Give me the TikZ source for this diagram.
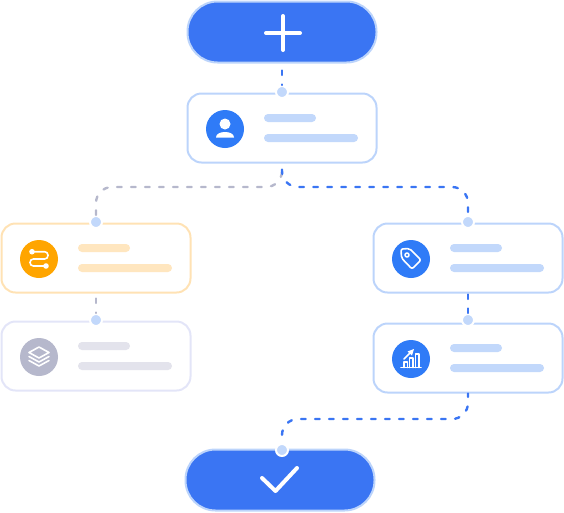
\documentclass[tikz,border=0pt]{standalone}
\definecolor{mainblue}{HTML}{3A75F3}
\definecolor{iconblue}{HTML}{2F7BF7}
\definecolor{edgeblue}{HTML}{BCD4FB}
\definecolor{barblue}{HTML}{C2D8FB}
\definecolor{iconorange}{HTML}{FFA500}
\definecolor{edgeorange}{HTML}{FFE2B4}
\definecolor{barorange}{HTML}{FFE6BF}
\definecolor{icongray}{HTML}{B6B8CC}
\definecolor{edgegray}{HTML}{E3E5F8}
\definecolor{bargray}{HTML}{E3E3EC}
\tikzset{
	pill/.style = {draw = edgeblue, fill = mainblue, line width = 2pt, rounded corners = 30pt, minimum width = 189pt, minimum height = 61pt, inner sep = 0pt},
	card/.style = {line width = 2pt, fill = white, rounded corners = 14pt, minimum width = 189pt, minimum height = 69pt, inner sep = 0pt},
	badge/.style = {circle, minimum size = 38pt, inner sep = 0pt},
	shortbar/.style = {rounded corners = 4pt, minimum width = 52pt, minimum height = 8pt, inner sep = 0pt},
	longbar/.style = {rounded corners = 4pt, minimum width = 94pt, minimum height = 8pt, inner sep = 0pt},
	joint/.style = {circle, fill = barblue, draw = white, line width = 2pt, minimum size = 12pt, inner sep = 0pt},
	link/.style = {line width = 2.4pt, line cap = round, dash pattern = on 4.5pt off 9.5pt, dash phase = 7pt, rounded corners = 16pt},
	glyph/.style = {draw = white, line width = 1.6pt, line cap = round, line join = round}
}
\begin{document}
\begin{tikzpicture}[x = 1pt, y = -1pt]
	\useasboundingbox (0,0) rectangle (564,512);
	% the two ends
	\node [pill] (start) at (282,32) {};
	\node [pill] (finish) at (280,480) {};
	% cards with their badge and bars
	\foreach \name/\x/\y/\edgecol/\barcol/\iconcol in {user/282/128/edgeblue/barblue/iconblue, route/96/258/edgeorange/barorange/iconorange, stack/96/356/edgegray/bargray/icongray, tag/468/258/edgeblue/barblue/iconblue, chart/468/358/edgeblue/barblue/iconblue} {
		\node [card, draw = \edgecol] (\name) at (\x,\y) {};
		\node [badge, fill = \iconcol] (\name icon) at ([xshift = -57pt, yshift = -1pt]\name.center) {};
		\node [shortbar, fill = \barcol] (\name short) at ([xshift = 8pt, yshift = 10pt]\name.center) {};
		\node [longbar, fill = \barcol] (\name long) at ([xshift = 29pt, yshift = -10pt]\name.center) {};
	}
	% joints on the top edges
	\node [joint] (jointuser) at (282,92) {};
	\node [joint] (jointroute) at (96,222) {};
	\node [joint] (jointstack) at (96,320) {};
	\node [joint] (jointtag) at (468,222) {};
	\node [joint] (jointchart) at (468,320) {};
	\node [joint] (jointfinish) at (282,450) {};
	\coordinate (bendleft) at (96,187);
	\coordinate (bendright) at (468,187);
	\coordinate (bendfrom) at (282,187);
	\coordinate (bendlow) at (468,419);
	\coordinate (bendend) at (282,419);
	% links
	\draw [link, icongray, dash phase = 5pt] (user.south) -- (bendfrom) -- (bendleft) -- (jointroute);
	\draw [link, mainblue, dash phase = 8pt] (user.south) -- (bendfrom) -- (bendright) -- (jointtag);
	\draw [link, mainblue] (start.south) -- (jointuser);
	\draw [link, icongray, dash phase = 9pt] (route.south) -- (jointstack);
	\draw [link, mainblue, dash phase = 13pt] (tag.south) -- (jointchart);
	\draw [link, mainblue, dash phase = 1pt] (chart.south) -- (bendlow) -- (bendend) -- (jointfinish);
	% plus and check
	\draw [glyph, line width = 4pt] (283,16) -- (283,50) (266,33) -- (300,33);
	\draw [glyph, line width = 4pt] (262,478) -- (275.5,491) -- (297,468);
	% user
	\begin{scope}[shift = {(usericon)}]
		\fill [white] (0,-5) circle (5.5pt);
		\fill [white] (-9,8.5) .. controls (-9,5) and (-5,3) .. (0,3) .. controls (5,3) and (9,5) .. (9,8.5) -- cycle;
	\end{scope}
	% route
	\begin{scope}[shift = {(routeicon)}]
		\draw [glyph, rounded corners = 3.4pt] (-7,-7.3) -- (9,-7.3) -- (9,0) -- (-9,0) -- (-9,7) -- (7,7);
		\fill [white] (-7,-7.3) circle (2.8pt) (7,7) circle (2.8pt);
	\end{scope}
	% stack
	\begin{scope}[shift = {(stackicon)}]
		\draw [glyph] (0,-10) -- (10,-4.5) -- (0,1) -- (-10,-4.5) -- cycle;
		\draw [glyph] (-10,-0.5) -- (0,5) -- (10,-0.5);
		\draw [glyph] (-10,3.5) -- (0,9) -- (10,3.5);
	\end{scope}
	% tag
	\begin{scope}[shift = {(tagicon)}]
		\draw [glyph, rounded corners = 2pt] (-10,-10) -- (-1.5,-10.5) -- (10,1) -- (1,10) -- (-9.5,-1) -- cycle;
		\draw [glyph] (-4,-4) circle (2pt);
	\end{scope}
	% chart
	\begin{scope}[shift = {(charticon)}]
		\draw [glyph] (-10,8.5) -- (10,8.5);
		\draw [glyph] (-7,8.5) -- (-7,3) -- (-3.5,3) -- (-3.5,8.5);
		\draw [glyph] (-1.5,8.5) -- (-1.5,-1) -- (2,-1) -- (2,8.5);
		\draw [glyph] (4.5,8.5) -- (4.5,-5) -- (8,-5) -- (8,8.5);
		\draw [glyph] (-7,0) -- (-1,-6);
		\fill [white] (-3.5,-7.5) -- (3,-10) -- (1,-3.5) -- cycle;
	\end{scope}
\end{tikzpicture}
\end{document}
